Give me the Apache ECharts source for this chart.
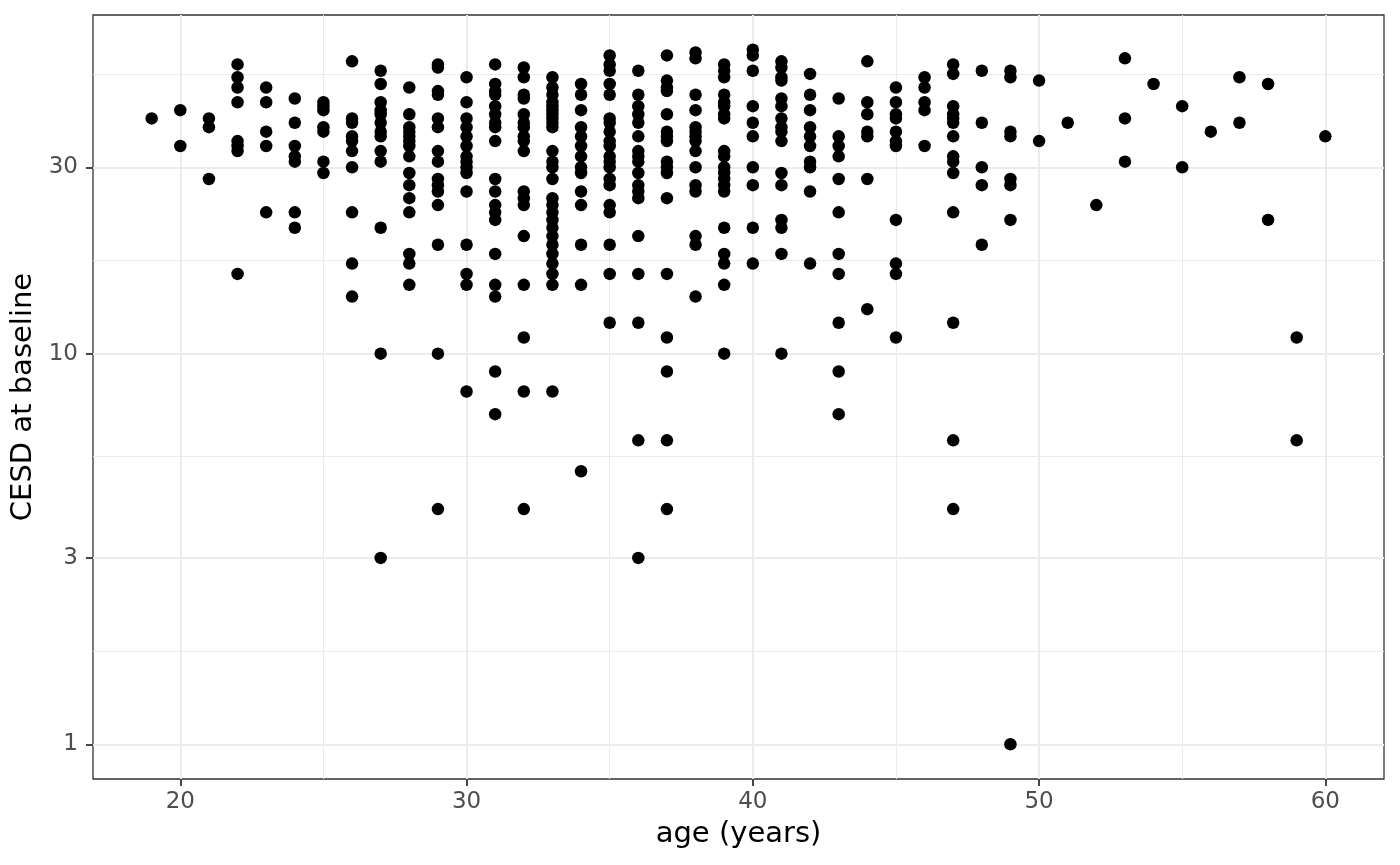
<!DOCTYPE html>
<html lang="en">
<head>
    <meta charset="UTF-8">
    <title>CESD at baseline by age</title>
    <script src="https://cdn.jsdelivr.net/npm/echarts@6/dist/echarts.min.js"></script>
    <style>
        html, body { margin: 0; padding: 0; background: #fff; }
        #chart { width: 1400px; height: 865px; }
    </style>
</head>
<body>
<div id="chart"></div>
<script>
    // age (years) and the CESD scores seen at that age
    const ages = [19, 20, 21, 22, 23, 24, 25, 26, 27, 28, 29, 30, 31, 32, 33, 34, 35, 36, 37, 38, 39,
        40, 41, 42, 43, 44, 45, 46, 47, 48, 49, 50, 51, 52, 53, 54, 55, 56, 57, 58, 59, 60];
    const cesdByAge = [
        [40],
        [42, 34],
        [40, 38, 28],
        [55, 51, 48, 44, 35, 34, 33, 16],
        [48, 44, 37, 34, 23],
        [45, 39, 34, 32, 31, 23, 21],
        [44, 43, 42, 38, 37, 31, 29],
        [56, 40, 39, 36, 35, 33, 30, 23, 17, 14],
        [53, 49, 44, 42, 41, 39, 37, 36, 33, 31, 21, 10, 3],
        [48, 41, 38, 37, 36, 35, 34, 32, 29, 27, 25, 23, 18, 17, 15],
        [55, 54, 47, 46, 40, 38, 33, 31, 28, 27, 26, 24, 19, 10, 4],
        [51, 44, 40, 38, 36, 34, 32, 31, 30, 29, 26, 19, 16, 15, 8],
        [55, 49, 47, 46, 43, 41, 39, 38, 35, 28, 26, 24, 23, 22, 18, 15, 14, 9, 7],
        [54, 51, 46, 45, 41, 39, 38, 36, 35, 33, 26, 25, 24, 20, 15, 11, 8, 4],
        [51, 48, 46, 44, 43, 42, 41, 40, 39, 38, 33, 31, 30, 28, 25, 24, 23, 22, 21, 20, 19, 18, 17, 16, 15, 8],
        [49, 46, 42, 38, 36, 34, 32, 30, 29, 26, 24, 19, 15, 5],
        [58, 55, 53, 49, 46, 40, 39, 37, 35, 34, 32, 31, 30, 28, 27, 24, 23, 19, 16, 12],
        [53, 46, 43, 41, 39, 36, 33, 32, 31, 29, 27, 26, 25, 20, 16, 12, 6, 3],
        [58, 50, 48, 47, 41, 37, 36, 35, 31, 30, 29, 25, 16, 11, 9, 6, 4],
        [59, 57, 46, 42, 38, 37, 36, 35, 33, 30, 27, 26, 20, 19, 14],
        [55, 53, 51, 46, 44, 43, 41, 40, 33, 32, 30, 29, 28, 27, 26, 21, 18, 17, 15, 10],
        [60, 58, 53, 43, 39, 36, 30, 27, 21, 17],
        [56, 54, 51, 50, 45, 43, 40, 38, 37, 35, 29, 27, 22, 21, 18, 10],
        [52, 46, 42, 38, 36, 34, 31, 30, 26, 17],
        [45, 36, 34, 32, 28, 23, 18, 16, 12, 9, 7],
        [56, 44, 41, 37, 36, 28, 13],
        [48, 44, 41, 40, 37, 35, 34, 22, 17, 16, 11],
        [51, 48, 44, 42, 34],
        [55, 52, 43, 41, 40, 39, 36, 32, 31, 29, 23, 12, 6, 4],
        [53, 39, 30, 27, 19],
        [53, 51, 37, 36, 28, 27, 22, 1],
        [50, 35],
        [39],
        [24],
        [57, 40, 31],
        [49],
        [43, 30],
        [37],
        [51, 39],
        [49, 22],
        [11, 6],
        [36]
    ];

    // axis breaks
    const xBreaks = [20, 30, 40, 50, 60];
    const xMinorBreaks = [25, 35, 45, 55];
    const yBreaks = [1, 3, 10, 30];
    const yMinorBreaks = [1.732, 5.477, 17.32, 51.96];

    let points = [];
    ages.forEach(function (age, i) {
        cesdByAge[i].forEach(function (c) {
            points.push([age, c]);
        });
    });

    const font = 'DejaVu Sans';
    const xMin = 16.95, xMax = 62.05;
    const yMin = 0.815, yMax = 73.6;

    let myChart = echarts.init(document.getElementById('chart'));
    myChart.setOption({
        animation: false,
        grid: {
            left: 93, right: 16, top: 15, bottom: 86,
            show: true, borderColor: '#333333', borderWidth: 1.3, backgroundColor: '#ffffff'
        },
        xAxis: [
            {
                type: 'value', min: xMin, max: xMax,
                name: 'age (years)', nameLocation: 'middle', nameGap: 41,
                nameTextStyle: {fontFamily: font, fontSize: 29, color: '#000000'},
                axisLine: {show: false},
                axisTick: {show: true, length: 7, customValues: xBreaks, lineStyle: {color: '#333333', width: 1.8}},
                axisLabel: {customValues: xBreaks, margin: 12, fontFamily: font, fontSize: 23, color: '#4d4d4d'},
                splitLine: {show: true, lineStyle: {color: '#ebebeb', width: 2}}
            },
            {
                type: 'value', min: xMin, max: xMax, position: 'bottom',
                axisLine: {show: false},
                axisTick: {show: false, customValues: xMinorBreaks},
                axisLabel: {show: false, customValues: xMinorBreaks},
                splitLine: {show: true, lineStyle: {color: '#ebebeb', width: 1}}
            }
        ],
        yAxis: [
            {
                type: 'log', logBase: 10, min: yMin, max: yMax,
                name: 'CESD at baseline', nameLocation: 'middle', nameGap: 47,
                nameTextStyle: {fontFamily: font, fontSize: 29, color: '#000000'},
                axisLine: {show: false},
                axisTick: {show: true, length: 7, customValues: yBreaks, lineStyle: {color: '#333333', width: 1.8}},
                axisLabel: {customValues: yBreaks, margin: 15, fontFamily: font, fontSize: 23, color: '#4d4d4d'},
                splitLine: {show: true, lineStyle: {color: '#ebebeb', width: 2}}
            },
            {
                type: 'log', logBase: 10, min: yMin, max: yMax, position: 'left',
                axisLine: {show: false},
                axisTick: {show: false, customValues: yMinorBreaks},
                axisLabel: {show: false, customValues: yMinorBreaks},
                splitLine: {show: true, lineStyle: {color: '#ebebeb', width: 1}}
            }
        ],
        series: [
            {
                type: 'scatter',
                xAxisIndex: 0, yAxisIndex: 0,
                data: points,
                symbol: 'circle',
                symbolSize: 12.5,
                itemStyle: {color: '#000000', opacity: 1},
                z: 5
            }
        ]
    });
</script>
</body>
</html>
